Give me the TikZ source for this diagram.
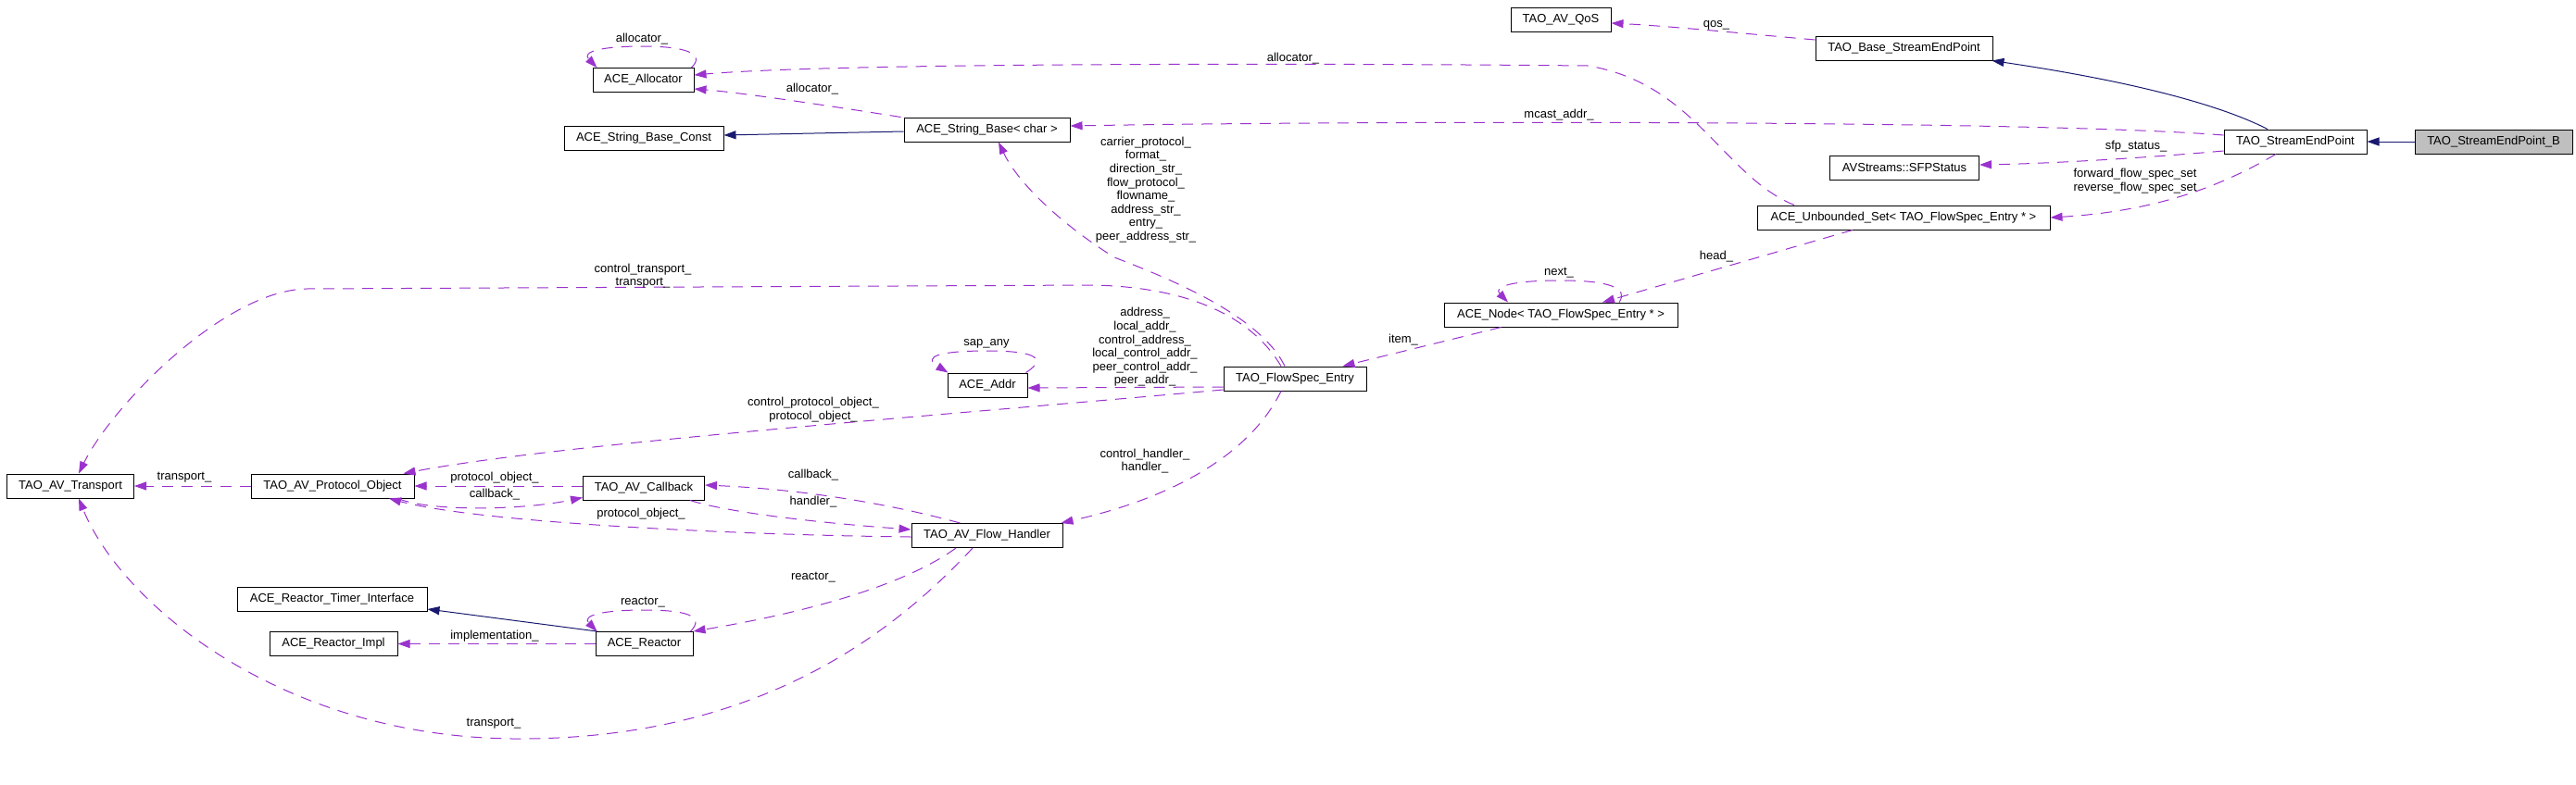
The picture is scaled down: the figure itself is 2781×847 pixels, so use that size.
\documentclass[tikz,border=0pt]{standalone}
\usepackage{fontspec}
\setmainfont{Liberation Sans}
\usetikzlibrary{arrows.meta,calc}
\definecolor{usecol}{HTML}{9A32CD}
\definecolor{inhcol}{HTML}{191970}
\definecolor{boxgrey}{HTML}{BFBFBF}
\begin{document}
\begin{tikzpicture}[x=1pt,y=-1pt,
  box/.style={draw=black, fill=white, line width=1pt, minimum height=26pt, inner sep=0pt, font=\fontsize{13}{15}\selectfont},
  lbl/.style={inner sep=0pt, align=center, font=\fontsize{13}{14.6}\selectfont},
  usearrow/.style={draw=usecol, line width=1pt, dash pattern=on 12pt off 9pt, -{Triangle[length=13pt,width=9pt]}, fill=none},
  inharrow/.style={draw=inhcol, line width=1pt, -{Triangle[length=13pt,width=9pt]}, fill=none}]
\fill[white] (0,0) rectangle (2781,847);
\useasboundingbox (0,0) rectangle (2781,847);

% nodes
\node[box, minimum width=170pt, fill=boxgrey] (B) at (2692,153) {TAO\_StreamEndPoint\_B};
\node[box, minimum width=154pt] (SEP) at (2478,153) {TAO\_StreamEndPoint};
\node[box, minimum width=191pt] (Base) at (2055.5,52) {TAO\_Base\_StreamEndPoint};
\node[box, minimum width=108pt] (QoS) at (1685,21) {TAO\_AV\_QoS};
\node[box, minimum width=161pt] (SFP) at (2056,181) {AVStreams::SFPStatus};
\node[box, minimum width=316pt] (USet) at (2055,235) {ACE\_Unbounded\_Set< TAO\_FlowSpec\_Entry * >};
\node[box, minimum width=252pt] (Node) at (1685,340) {ACE\_Node< TAO\_FlowSpec\_Entry * >};
\node[box, minimum width=154pt] (Flow) at (1398,409) {TAO\_FlowSpec\_Entry};
\node[box, minimum width=86pt] (Addr) at (1066,416) {ACE\_Addr};
\node[box, minimum width=179pt] (SB) at (1065.5,140) {ACE\_String\_Base< char >};
\node[box, minimum width=172pt] (SBC) at (695,149) {ACE\_String\_Base\_Const};
\node[box, minimum width=109pt] (Alloc) at (694.5,86.5) {ACE\_Allocator};
\node[box, minimum width=137pt] (Trans) at (76,525) {TAO\_AV\_Transport};
\node[box, minimum width=176pt] (PO) at (359,525) {TAO\_AV\_Protocol\_Object};
\node[box, minimum width=131pt] (CB) at (695,527) {TAO\_AV\_Callback};
\node[box, minimum width=163pt] (FH) at (1065.5,578.5) {TAO\_AV\_Flow\_Handler};
\node[box, minimum width=205pt] (RTI) at (358.5,647.5) {ACE\_Reactor\_Timer\_Interface};
\node[box, minimum width=138pt] (RImpl) at (360,695.5) {ACE\_Reactor\_Impl};
\node[box, minimum width=105pt] (Reactor) at (695.5,695.5) {ACE\_Reactor};

% inheritance
\draw[inharrow] (B.west) -- (SEP.east);
\draw[inharrow] ($(SEP.north)+(-30,0)$) .. controls (2410,120) and (2330,92) .. ($(Base.south east)+(-1,0)$);
\draw[inharrow] ($(SB.west)+(0,2)$) -- ($(SBC.east)+(0,-3)$);
\draw[inharrow] ($(Reactor.north west)+(2,0)$) -- ($(RTI.east)+(0,10.5)$);

% usage
\draw[usearrow] ($(Base.west)+(0,-9)$) .. controls (1880,36) and (1800,28) .. ($(QoS.east)+(0,4)$);
\draw[usearrow] ($(SEP.west)+(0,-7)$) .. controls (2200,130) and (1500,130) .. ($(SB.east)+(0,-4)$);
\draw[usearrow] ($(SEP.west)+(0,10)$) .. controls (2300,172) and (2200,177) .. ($(SFP.east)+(0,-3)$);
\draw[usearrow] ($(SEP.south)+(-21,0)$) .. controls (2400,200) and (2330,228) .. (USet.east);
\draw[usearrow] ($(USet.north)+(-118,0)$) .. controls (1860,190) and (1830,90) .. (1714,71) .. controls (1400,68) and (900,68) .. ($(Alloc.east)+(0,-5.5)$);
\draw[usearrow] ($(SB.north west)+(-3,0)$) .. controls (900,115) and (800,100) .. ($(Alloc.east)+(0,9.5)$);
\draw[usearrow] ($(Alloc.north east)+(-3,0)$) .. controls (762,58) and (740,50) .. (694,50) .. controls (648,50) and (628,56) .. ($(Alloc.north west)+(5,0)$);
\draw[usearrow] ($(Flow.north)+(-11,0)$) .. controls (1360,340) and (1260,300) .. (1203,278) .. controls (1150,245) and (1100,200) .. ($(SB.south)+(12.5,0)$);
\draw[usearrow] ($(Flow.north)+(-15,0)$) .. controls (1350,340) and (1280,310) .. (1180,308) -- (330,312) .. controls (240,315) and (120,440) .. ($(Trans.north)+(9,0)$);
\draw[usearrow] ($(Flow.west)+(0,9)$) -- ($(Addr.east)+(0,3)$);
\draw[usearrow] ($(Flow.west)+(0,12)$) .. controls (1000,450) and (600,480) .. ($(PO.north east)+(-12,0)$);
\draw[usearrow] ($(Node.south west)+(62,0)$) -- ($(Flow.north east)+(-26,0)$);
\draw[usearrow] ($(Node.north)+(63,0)$) .. controls (1758,312) and (1740,303) .. (1685,303) .. controls (1630,303) and (1612,310) .. ($(Node.north)+(-57,0)$);
\draw[usearrow] ($(USet.south)+(-55,0)$) -- ($(Node.north)+(45,0)$);
\draw[usearrow] (PO.west) -- (Trans.east);
\draw[usearrow] ($(CB.west)+(0,-2)$) -- (PO.east);
\draw[usearrow] ($(PO.south)+(71,0)$) .. controls (460,552) and (560,552) .. ($(CB.south west)+(0,-3)$);
\draw[usearrow] ($(FH.west)+(0,1.5)$) .. controls (800,578) and (520,565) .. ($(PO.south)+(61,0)$);
\draw[usearrow] ($(FH.north west)+(53,0)$) .. controls (1000,555) and (900,530) .. ($(CB.east)+(0,-3)$);
\draw[usearrow] ($(CB.south east)+(-16,0)$) .. controls (790,555) and (900,566) .. ($(FH.west)+(0,-6.5)$);
\draw[usearrow] ($(Flow.south)+(-15,0)$) .. controls (1360,470) and (1300,530) .. ($(FH.north east)+(-2,0)$);
\draw[usearrow] ($(FH.south)+(-33.5,0)$) .. controls (980,630) and (880,660) .. (Reactor.north east);
\draw[usearrow] ($(FH.south)+(-15.5,0)$) .. controls (950,700) and (800,800) .. (553,798) .. controls (300,795) and (130,650) .. ($(Trans.south)+(9,0)$);
\draw[usearrow] (Reactor.west) -- (RImpl.east);
\draw[usearrow] ($(Reactor.north east)+(-3,0)$) .. controls (762,665) and (740,659) .. (695,659) .. controls (650,659) and (628,665) .. ($(Reactor.north west)+(2,0)$);
\draw[usearrow] ($(Addr.north east)+(-2,0)$) .. controls (1135,385) and (1110,379) .. (1066,379) .. controls (1015,379) and (995,385) .. ($(Addr.north west)+(1,0)$);

% labels
\node[lbl] (l1) at (1853,27) {qos\_};
\node[lbl] (l2) at (1683,124) {mcast\_addr\_};
\node[lbl] (l3) at (2306,158) {sfp\_status\_};
\node[lbl] (l4) at (2305,195.5) {forward\_flow\_spec\_set\\reverse\_flow\_spec\_set};
\node[lbl] (l5) at (1396,63) {allocator\_};
\node[lbl] (l6) at (877,96) {allocator\_};
\node[lbl] (l7) at (693,42) {allocator\_};
\node[lbl] (l8) at (1237,205) {carrier\_protocol\_\\format\_\\direction\_str\_\\flow\_protocol\_\\flowname\_\\address\_str\_\\entry\_\\peer\_address\_str\_};
\node[lbl] (l9) at (694,298) {control\_transport\_\\transport\_};
\node[lbl] (l10) at (1236,375) {address\_\\local\_addr\_\\control\_address\_\\local\_control\_addr\_\\peer\_control\_addr\_\\peer\_addr\_};
\node[lbl] (l11) at (878,442.5) {control\_protocol\_object\_\\protocol\_object\_};
\node[lbl] (l12) at (1515,367) {item\_};
\node[lbl] (l13) at (1683,295) {next\_};
\node[lbl] (l14) at (1853,277) {head\_};
\node[lbl] (l15) at (199,516) {transport\_};
\node[lbl] (l16) at (534,516) {protocol\_object\_};
\node[lbl] (l17) at (534,534) {callback\_};
\node[lbl] (l18) at (692,555) {protocol\_object\_};
\node[lbl] (l19) at (878,513) {callback\_};
\node[lbl] (l20) at (878,542) {handler\_};
\node[lbl] (l21) at (1236,498) {control\_handler\_\\handler\_};
\node[lbl] (l22) at (878,624) {reactor\_};
\node[lbl] (l23) at (533,782) {transport\_};
\node[lbl] (l24) at (534,687) {implementation\_};
\node[lbl] (l25) at (694,651) {reactor\_};
\node[lbl] (l26) at (1065,371) {sap\_any};
\end{tikzpicture}
\end{document}
